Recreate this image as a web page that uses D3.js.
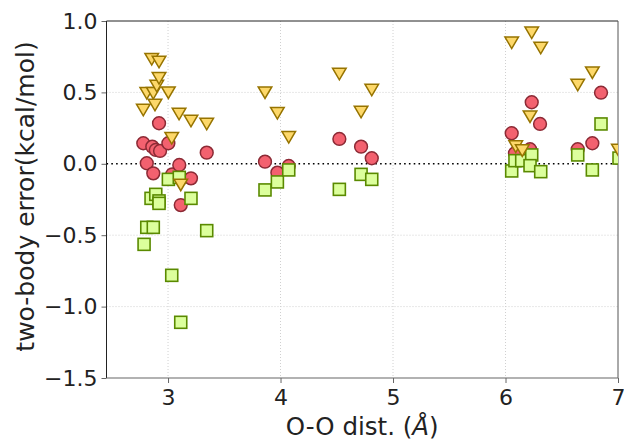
<!DOCTYPE html>
<html>
<head>
<meta charset="utf-8">
<script src="https://cdn.jsdelivr.net/npm/d3@7"></script>
<style>
  html, body { margin: 0; padding: 0; background: #fff; }
  svg { display: block; font-family: "DejaVu Sans", sans-serif; }
</style>
</head>
<body>
<svg id="chart" width="624" height="441"></svg>
<script>
// ---- data ----
const xTicks = [3, 4, 5, 6, 7];
const yTicks = [1.0, 0.5, 0.0, -0.5, -1.0, -1.5];
const yTickLabels = ["1.0", "0.5", "0.0", "\u22120.5", "\u22121.0", "\u22121.5"];

const circleX = [2.780, 2.811, 2.860, 2.869, 2.891, 2.920, 2.929, 3.003, 3.038, 3.100, 3.113, 3.204, 3.344,
                 3.862, 3.972, 4.073, 4.523, 4.716, 4.811,
                 6.055, 6.307, 6.233, 6.218, 6.084, 6.642, 6.772, 6.849];
const circleY = [0.144, 0.004, 0.120, -0.067, 0.097, 0.284, 0.090, 0.144, -0.074, -0.008, -0.289, -0.102, 0.078,
                 0.015, -0.062, -0.015, 0.174, 0.120, 0.039,
                 0.214, 0.279, 0.431, 0.102, 0.074, 0.102, 0.144, 0.498];

const squareX = [2.787, 2.811, 2.849, 2.869, 2.891, 2.920, 2.920, 3.003, 3.033, 3.100, 3.113, 3.204, 3.344,
                 3.862, 3.972, 4.073, 4.523, 4.716, 4.811,
                 6.055, 6.084, 6.144, 6.233, 6.218, 6.313, 6.642, 6.772, 6.849, 7.009];
const squareY = [-0.564, -0.445, -0.242, -0.445, -0.214, -0.260, -0.277, -0.109, -0.781, -0.095, -1.110, -0.242, -0.468,
                 -0.183, -0.127, -0.043, -0.179, -0.074, -0.109,
                 -0.050, 0.022, 0.022, 0.062, -0.013, -0.055, 0.062, -0.043, 0.279, 0.040];

const triX = [2.780, 2.811, 2.855, 2.869, 2.884, 2.900, 2.920, 2.920, 3.003, 3.033, 3.098, 3.113, 3.204, 3.344,
              3.862, 3.972, 4.073, 4.523, 4.716, 4.811,
              6.055, 6.233, 6.313, 6.218, 6.091, 6.149, 6.642, 6.772, 7.003];
const triY = [0.377, 0.494, 0.732, 0.494, 0.412, 0.545, 0.713, 0.599, 0.498, 0.179, 0.349, -0.148, 0.300, 0.279,
              0.498, 0.354, 0.186, 0.629, 0.363, 0.517,
              0.848, 0.918, 0.811, 0.330, 0.120, 0.092, 0.552, 0.638, 0.097];

// ---- layout ----
const svg = d3.select("#chart");
const L = 106.5, R = 618, T = 21, B = 378;
const x = d3.scaleLinear().domain([2.453, 7.0]).range([L, R]);
const y = d3.scaleLinear().domain([-1.5, 1.0]).range([B, T]);

svg.append("defs").append("clipPath").attr("id", "clip")
  .append("rect").attr("x", L).attr("y", T).attr("width", R - L).attr("height", B - T);

// grid
const grid = svg.append("g");
grid.selectAll("line.gx").data(xTicks.filter(d => d < 7)).join("line")
  .attr("x1", d => x(d)).attr("x2", d => x(d)).attr("y1", T).attr("y2", B)
  .attr("stroke", "#d0d0d0").attr("stroke-width", 1).attr("stroke-dasharray", "1,2");
grid.selectAll("line.gy").data(yTicks.filter(d => d !== 0 && d < 1 && d > -1.5)).join("line")
  .attr("x1", L).attr("x2", R).attr("y1", d => y(d)).attr("y2", d => y(d))
  .attr("stroke", "#d0d0d0").attr("stroke-width", 1).attr("stroke-dasharray", "1,2");

// zero line
svg.append("line").attr("x1", L).attr("x2", R).attr("y1", y(0)).attr("y2", y(0))
  .attr("stroke", "#000").attr("stroke-width", 1.6).attr("stroke-dasharray", "1.6,3.2");

// axes
const xAxis = d3.axisBottom(x).tickValues(xTicks).tickFormat(d3.format("d")).tickSize(5).tickPadding(6);
const gx = svg.append("g").attr("transform", `translate(0,${B})`).call(xAxis);
gx.select(".domain").remove();
gx.selectAll(".tick line").attr("stroke", "#666");
gx.selectAll(".tick text").attr("font-size", 22).attr("fill", "#222").attr("font-family", "DejaVu Sans");

const yAxis = d3.axisLeft(y).tickValues(yTicks).tickFormat((d, i) => yTickLabels[i]).tickSize(5).tickPadding(4);
const gy = svg.append("g").attr("transform", `translate(${L},0)`).call(yAxis);
gy.select(".domain").remove();
gy.selectAll(".tick line").attr("stroke", "#666");
gy.selectAll(".tick text").attr("font-size", 22).attr("fill", "#222").attr("font-family", "DejaVu Sans");

// spines
svg.append("line").attr("x1", L).attr("x2", R).attr("y1", T).attr("y2", T).attr("stroke", "#222").attr("stroke-width", 1);
svg.append("line").attr("x1", R).attr("x2", R).attr("y1", T).attr("y2", B).attr("stroke", "#555").attr("stroke-width", 1);
svg.append("line").attr("x1", L).attr("x2", L).attr("y1", T).attr("y2", B).attr("stroke", "#222").attr("stroke-width", 1);
svg.append("line").attr("x1", L).attr("x2", R).attr("y1", B).attr("y2", B).attr("stroke", "#666").attr("stroke-width", 1.2);

// markers
const marks = svg.append("g").attr("clip-path", "url(#clip)");

marks.append("g").selectAll("circle").data(circleX.map((d, i) => [d, circleY[i]])).join("circle")
  .attr("cx", d => x(d[0])).attr("cy", d => y(d[1])).attr("r", 6.4)
  .attr("fill", "#f3616f").attr("stroke", "#8c2a35").attr("stroke-width", 1.5);

const s = 12;
marks.append("g").selectAll("rect").data(squareX.map((d, i) => [d, squareY[i]])).join("rect")
  .attr("x", d => x(d[0]) - s / 2).attr("y", d => y(d[1]) - s / 2).attr("width", s).attr("height", s)
  .attr("fill", "#dcff9c").attr("stroke", "#5a8a00").attr("stroke-width", 1.6);

const tw = 6.8, th = 5.8;
marks.append("g").selectAll("path").data(triX.map((d, i) => [d, triY[i]])).join("path")
  .attr("d", d => {
    const cx = x(d[0]), cy = y(d[1]);
    return `M${cx - tw},${cy - th}L${cx + tw},${cy - th}L${cx},${cy + th}Z`;
  })
  .attr("fill", "#fdd86a").attr("stroke", "#977400").attr("stroke-width", 1.5).attr("stroke-linejoin", "miter");

// axis labels
svg.append("text").attr("x", (L + R) / 2).attr("y", 435).attr("text-anchor", "middle")
  .attr("font-size", 24.5).attr("fill", "#222").attr("font-family", "DejaVu Sans")
  .html('O-O dist. (<tspan font-style="italic">Å</tspan>)');

svg.append("text").attr("transform", `translate(34,${(T + B) / 2 - 3}) rotate(-90)`)
  .attr("text-anchor", "middle").attr("font-size", 25).attr("fill", "#222").attr("font-family", "DejaVu Sans")
  .text("two-body error(kcal/mol)");
</script>
</body>
</html>
